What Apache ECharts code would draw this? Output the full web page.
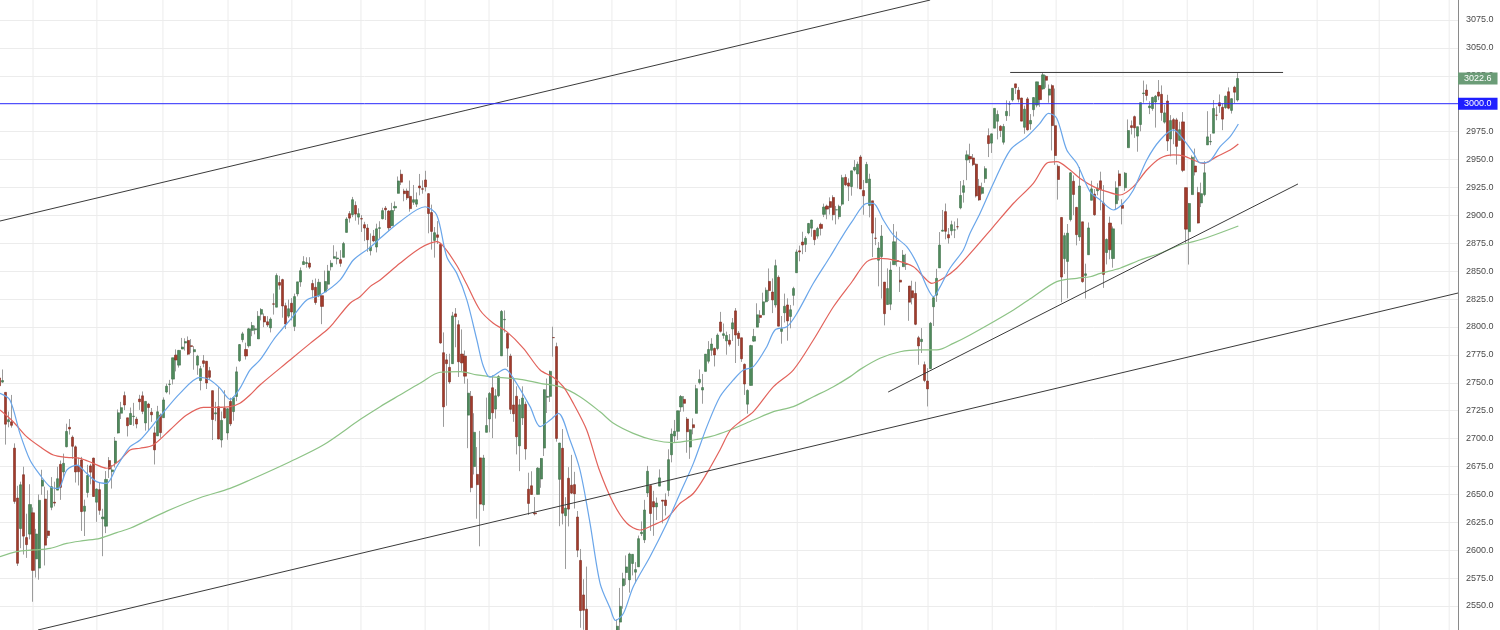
<!DOCTYPE html>
<html><head><meta charset="utf-8">
<script src="https://cdn.jsdelivr.net/npm/echarts@6/dist/echarts.min.js"></script>
<style>html,body{margin:0;padding:0;background:#fff;}#c{width:1500px;height:630px;}</style>
</head><body><div id="c"></div>
<script>
// Daily candles [open, high, low, close], one array per month (Mar 15 2018 .. Oct 25 2019)
const m1803 = [[2754.3,2763.0,2741.5,2747.3],[2750.6,2761.9,2750.0,2752.0],[2741.4,2741.4,2694.6,2712.9],[2715.1,2724.2,2710.1,2716.9],[2715.0,2739.1,2709.8,2711.9],[2691.4,2695.7,2641.6,2643.7],[2646.7,2657.7,2585.9,2588.3],[2619.4,2661.4,2601.8,2658.6],[2667.6,2674.8,2596.1,2612.6],[2611.3,2632.7,2593.1,2605.0],[2614.4,2659.1,2609.7,2640.9]];
const m1804 = [[2633.5,2638.3,2553.8,2581.9],[2592.2,2619.1,2575.5,2614.5],[2584.0,2649.9,2573.6,2644.7],[2657.4,2672.1,2649.6,2662.8],[2645.8,2656.9,2586.3,2604.5],[2617.2,2653.6,2610.8,2613.2],[2638.4,2665.5,2635.8,2656.9],[2643.0,2661.4,2639.3,2642.2],[2653.8,2674.7,2653.8,2664.0],[2676.9,2680.3,2645.1,2656.3],[2670.1,2686.5,2665.2,2677.8],[2692.7,2713.3,2692.1,2706.4],[2710.1,2717.5,2703.6,2708.6],[2701.2,2702.8,2681.9,2693.1],[2692.6,2693.9,2660.6,2670.1],[2675.4,2682.9,2658.0,2670.3],[2680.8,2683.6,2617.3,2634.6],[2634.9,2645.3,2612.7,2639.4],[2651.7,2676.5,2647.2,2666.9],[2675.5,2677.4,2659.0,2669.9],[2682.5,2682.9,2648.0,2648.1]];
const m1805 = [[2643.0,2655.3,2625.4,2654.8],[2654.2,2660.9,2631.7,2635.7],[2628.1,2637.1,2594.6,2629.7],[2621.5,2670.9,2615.3,2663.4],[2680.3,2683.4,2664.7,2672.6],[2670.3,2676.3,2655.2,2671.9],[2678.1,2701.3,2674.1,2697.8],[2705.0,2726.1,2704.5,2723.1],[2722.7,2732.9,2717.5,2727.7],[2738.5,2742.1,2725.5,2730.1],[2718.6,2718.6,2701.9,2711.5],[2712.6,2727.8,2712.2,2722.5],[2719.7,2732.0,2711.4,2720.1],[2717.4,2719.5,2709.2,2713.0],[2735.4,2739.2,2725.7,2733.0],[2738.3,2742.2,2721.9,2724.4],[2714.0,2733.3,2707.1,2733.3],[2730.9,2732.0,2707.4,2727.8],[2723.6,2727.4,2715.0,2721.3],[2705.1,2710.7,2676.8,2689.9],[2702.4,2729.3,2702.4,2724.0],[2721.0,2722.5,2700.7,2705.3]];
const m1806 = [[2718.7,2736.9,2718.7,2734.6],[2741.7,2749.2,2740.5,2746.9],[2748.5,2752.6,2739.5,2748.8],[2753.3,2772.4,2748.5,2772.4],[2774.8,2779.9,2760.2,2770.4],[2765.8,2779.4,2763.6,2779.0],[2780.2,2790.2,2780.2,2782.0],[2785.6,2789.8,2778.8,2786.9],[2787.9,2791.5,2774.7,2775.6],[2783.2,2789.1,2776.5,2782.5],[2777.8,2782.8,2761.7,2779.7],[2765.8,2775.0,2757.1,2773.8],[2752.0,2765.1,2743.2,2762.6],[2769.7,2774.9,2763.9,2767.3],[2769.3,2769.3,2744.4,2749.8],[2760.8,2764.2,2752.7,2754.9],[2742.9,2742.9,2698.7,2717.1],[2722.1,2732.9,2715.6,2723.1],[2728.5,2746.1,2699.4,2699.6],[2698.7,2724.3,2692.0,2716.3],[2727.1,2743.3,2718.0,2718.4]];
const m1807 = [[2705.0,2727.3,2699.0,2726.7],[2733.3,2736.6,2711.2,2713.2],[2724.2,2737.8,2716.0,2736.6],[2737.7,2764.4,2733.5,2759.8],[2769.8,2784.7,2768.7,2784.2],[2788.6,2795.6,2786.2,2793.8],[2779.8,2785.9,2770.8,2774.0],[2783.1,2799.2,2781.5,2798.3],[2796.9,2804.5,2791.7,2801.3],[2797.4,2801.2,2793.4,2798.4],[2789.3,2814.2,2789.2,2809.6],[2811.4,2816.8,2805.9,2815.6],[2809.4,2812.1,2799.8,2804.5],[2804.6,2809.7,2800.0,2801.8],[2799.2,2808.6,2795.1,2807.0],[2820.7,2830.0,2811.1,2820.4],[2817.7,2848.0,2817.7,2846.1],[2839.8,2845.8,2833.4,2837.4],[2842.4,2843.2,2808.3,2818.8],[2819.0,2821.7,2798.1,2802.6],[2809.7,2824.5,2808.1,2816.3]];
const m1808 = [[2821.2,2825.8,2805.9,2813.4],[2800.5,2829.9,2796.3,2827.2],[2829.6,2840.4,2827.4,2840.4],[2840.3,2853.3,2836.0,2850.4],[2855.9,2863.4,2855.9,2858.5],[2856.8,2862.4,2853.1,2857.7],[2857.2,2862.5,2852.0,2853.6],[2838.9,2842.2,2825.8,2833.3],[2835.5,2843.4,2819.9,2821.9],[2827.9,2843.1,2826.6,2840.0],[2828.0,2828.0,2802.5,2818.4],[2831.4,2850.5,2831.4,2840.7],[2838.3,2855.6,2833.7,2850.1],[2853.9,2859.8,2850.6,2857.1],[2861.5,2873.2,2861.3,2863.0],[2861.0,2867.5,2856.1,2861.8],[2860.3,2868.8,2854.0,2857.0],[2862.4,2876.2,2862.4,2874.7],[2884.7,2898.3,2884.7,2896.7],[2901.5,2903.8,2893.5,2897.5],[2900.6,2916.5,2898.4,2914.0],[2908.9,2912.5,2895.2,2901.1],[2898.4,2906.3,2891.7,2901.5]];
const m1809 = [[2897.0,2900.2,2885.1,2896.7],[2891.6,2894.2,2876.9,2888.6],[2888.6,2892.1,2867.3,2878.1],[2868.3,2883.8,2864.1,2871.7],[2881.4,2886.9,2875.9,2877.1],[2871.6,2892.5,2866.8,2887.9],[2888.3,2894.7,2879.2,2888.9],[2896.9,2906.8,2896.4,2904.2],[2906.4,2908.3,2895.8,2905.0],[2903.8,2904.7,2886.2,2888.8],[2890.7,2911.2,2890.4,2904.3],[2906.6,2912.4,2903.8,2908.0],[2919.7,2934.8,2919.7,2930.8],[2936.8,2940.9,2927.1,2929.7],[2921.8,2923.8,2912.6,2919.4],[2921.8,2924.0,2913.7,2915.6],[2917.0,2931.2,2903.3,2906.0],[2911.7,2927.2,2909.3,2914.0],[2910.0,2920.5,2907.5,2914.0]];
const m1810 = [[2926.3,2937.1,2917.9,2924.6],[2923.8,2931.4,2919.4,2923.4],[2931.7,2939.9,2921.4,2925.5],[2919.4,2919.8,2883.9,2901.6],[2902.5,2909.6,2869.3,2885.6],[2877.5,2889.5,2862.1,2884.4],[2882.5,2894.8,2874.3,2880.3],[2873.9,2874.0,2784.9,2785.7],[2776.9,2795.1,2710.5,2728.4],[2770.5,2775.8,2729.4,2767.1],[2763.8,2776.0,2749.0,2750.8],[2767.1,2813.5,2766.9,2809.9],[2811.7,2816.9,2781.8,2809.2],[2802.0,2806.0,2755.2,2768.8],[2775.7,2797.8,2760.3,2767.8],[2773.9,2778.9,2749.2,2755.9],[2721.0,2753.6,2691.4,2740.7],[2737.9,2742.6,2651.9,2656.1],[2674.9,2722.7,2667.8,2705.6],[2667.9,2692.4,2628.2,2658.7],[2682.7,2706.9,2603.5,2641.3],[2640.7,2685.4,2635.3,2682.6],[2705.6,2736.7,2705.6,2711.7]];
const m1811 = [[2717.6,2741.7,2705.6,2740.4],[2745.5,2756.6,2700.4,2723.1],[2726.4,2744.3,2717.9,2738.3],[2738.4,2756.8,2737.1,2755.5],[2774.1,2815.2,2774.1,2813.9],[2806.4,2814.8,2795.0,2806.8],[2794.1,2794.1,2764.2,2781.0],[2773.9,2776.0,2722.0,2726.2],[2730.1,2754.6,2715.0,2722.2],[2737.9,2746.8,2685.8,2701.6],[2693.5,2735.4,2670.8,2730.2],[2718.5,2746.8,2712.2,2736.3],[2730.7,2733.2,2681.1,2690.7],[2654.6,2669.4,2631.5,2641.9],[2657.7,2670.7,2649.8,2649.9],[2633.4,2647.6,2631.1,2632.6],[2650.0,2674.4,2650.0,2673.5],[2663.8,2682.5,2655.9,2682.2],[2691.5,2744.0,2684.4,2743.8],[2737.0,2753.8,2722.9,2737.8],[2737.8,2760.9,2732.8,2760.2]];
const m1812 = [[2790.5,2800.2,2773.4,2790.4],[2782.4,2785.9,2697.2,2700.1],[2663.5,2696.2,2621.5,2696.0],[2691.3,2708.5,2623.1,2633.1],[2630.9,2647.5,2583.2,2637.7],[2664.4,2674.4,2621.3,2636.8],[2658.2,2685.4,2650.3,2651.1],[2658.7,2670.2,2637.3,2650.5],[2629.7,2635.1,2593.8,2600.0],[2590.8,2601.1,2530.5,2545.9],[2559.9,2574.0,2528.7,2546.2],[2547.1,2585.3,2489.0,2507.0],[2496.8,2509.6,2441.2,2467.4],[2465.4,2504.4,2408.6,2416.6],[2400.6,2410.3,2351.1,2351.1],[2363.1,2467.8,2346.6,2467.7],[2442.5,2489.1,2397.9,2488.8],[2498.8,2520.3,2472.9,2485.7],[2498.9,2509.2,2482.8,2506.9]];
const m1901 = [[2477.0,2519.5,2467.5,2510.0],[2491.9,2493.1,2444.0,2447.9],[2474.3,2538.1,2474.3,2531.9],[2535.6,2566.2,2524.6,2549.7],[2568.1,2579.8,2547.6,2574.4],[2580.0,2595.3,2568.9,2585.0],[2573.5,2597.8,2562.0,2596.6],[2588.1,2596.3,2577.4,2596.3],[2580.3,2589.3,2570.4,2582.6],[2585.1,2613.1,2585.1,2610.3],[2614.8,2625.8,2612.7,2616.1],[2609.3,2645.1,2606.4,2636.0],[2651.3,2675.5,2647.6,2670.7],[2657.9,2657.9,2617.3,2632.9],[2643.5,2653.2,2612.9,2638.7],[2638.8,2647.2,2627.0,2642.3],[2657.4,2672.4,2657.3,2664.8],[2644.9,2644.9,2624.1,2643.9],[2644.9,2650.9,2631.1,2640.0],[2653.6,2690.4,2648.3,2681.1],[2685.5,2709.0,2678.7,2704.1]];
const m1902 = [[2702.3,2716.7,2696.9,2706.5],[2706.5,2725.0,2698.8,2724.9],[2728.3,2739.0,2724.0,2737.7],[2735.1,2738.1,2724.2,2731.6],[2717.5,2719.3,2687.3,2706.1],[2692.4,2708.1,2681.8,2707.9],[2712.4,2718.1,2703.8,2709.8],[2722.6,2748.2,2722.6,2744.7],[2750.3,2761.9,2748.6,2753.0],[2743.5,2757.9,2731.2,2745.7],[2760.2,2775.7,2760.2,2775.6],[2769.3,2787.3,2767.3,2779.8],[2779.1,2789.9,2774.1,2784.7],[2780.7,2781.6,2764.6,2774.9],[2780.7,2794.2,2779.1,2792.7],[2804.4,2813.5,2795.0,2796.1],[2792.4,2803.1,2789.5,2793.9],[2787.5,2795.8,2775.1,2792.4],[2788.1,2793.7,2782.5,2784.5]];
const m1903 = [[2798.2,2808.0,2787.4,2803.7],[2814.4,2816.9,2767.7,2792.8],[2794.4,2796.4,2783.0,2789.7],[2790.3,2790.3,2768.7,2771.5],[2766.5,2767.3,2739.1,2748.9],[2730.8,2744.1,2722.3,2743.1],[2747.6,2784.0,2747.6,2783.3],[2787.3,2798.3,2786.7,2791.5],[2799.8,2821.2,2799.8,2810.9],[2810.4,2815.0,2803.5,2808.5],[2810.8,2830.7,2810.8,2822.5],[2822.6,2835.4,2822.0,2832.9],[2840.8,2852.4,2823.3,2832.6],[2831.3,2843.5,2812.4,2824.2],[2819.7,2860.3,2817.4,2854.9],[2844.5,2846.2,2800.5,2800.7],[2796.0,2809.8,2785.0,2798.4],[2812.7,2829.9,2804.0,2818.5],[2819.7,2825.6,2787.7,2805.4],[2809.4,2819.7,2798.8,2815.4],[2828.3,2836.0,2819.2,2834.4]];
const m1904 = [[2848.6,2869.4,2848.6,2867.2],[2868.2,2872.9,2858.8,2867.2],[2876.1,2885.3,2865.2,2873.4],[2874.0,2881.3,2867.1,2879.4],[2884.2,2893.2,2883.0,2892.7],[2888.5,2896.0,2880.8,2895.8],[2886.6,2886.9,2873.3,2878.2],[2881.4,2889.7,2879.1,2888.2],[2891.9,2893.4,2882.0,2888.3],[2900.9,2910.5,2898.4,2907.4],[2908.3,2909.6,2896.5,2905.6],[2912.3,2916.1,2900.7,2907.1],[2916.0,2918.0,2895.5,2900.5],[2904.8,2908.4,2891.9,2905.0],[2898.8,2909.5,2896.4,2908.0],[2910.0,2936.3,2908.5,2933.7],[2934.0,2936.8,2926.1,2927.3],[2929.0,2933.1,2912.8,2926.2],[2925.8,2939.9,2917.6,2939.9],[2940.6,2949.5,2939.4,2943.0],[2937.1,2948.2,2924.1,2945.8]];
const m1905 = [[2952.3,2954.1,2923.4,2923.7],[2922.2,2931.7,2900.5,2917.5],[2929.2,2947.9,2929.2,2945.6],[2908.9,2937.3,2898.2,2932.5],[2913.0,2913.0,2862.6,2884.1],[2879.6,2898.0,2873.3,2879.4],[2859.8,2876.0,2836.4,2870.7],[2863.1,2891.3,2825.4,2881.4],[2840.2,2840.2,2801.4,2811.9],[2820.1,2852.5,2820.1,2834.4],[2820.4,2858.7,2815.1,2851.0],[2855.8,2892.2,2855.8,2876.3],[2858.6,2885.5,2854.2,2859.5],[2841.9,2853.9,2831.3,2840.2],[2854.0,2868.9,2854.0,2864.4],[2856.1,2865.5,2851.1,2856.3],[2836.7,2836.7,2805.5,2822.2],[2832.4,2841.4,2820.2,2826.1],[2830.0,2840.5,2801.6,2802.4],[2790.3,2792.0,2766.1,2783.0],[2786.9,2799.0,2776.7,2788.9],[2766.2,2769.0,2750.5,2752.1]];
const m1906 = [[2751.5,2763.1,2728.8,2744.5],[2762.6,2804.5,2762.6,2803.3],[2818.1,2827.3,2800.9,2826.2],[2828.5,2852.1,2822.5,2843.5],[2852.9,2885.0,2852.9,2873.3],[2885.8,2904.8,2885.5,2886.7],[2903.3,2910.6,2878.5,2885.7],[2882.7,2888.6,2874.7,2879.8],[2886.2,2895.2,2882.0,2891.6],[2886.8,2894.5,2879.6,2887.0],[2889.8,2897.3,2887.3,2889.7],[2906.7,2930.8,2905.4,2917.8],[2920.6,2931.7,2911.4,2926.5],[2949.6,2958.1,2931.5,2954.2],[2952.7,2964.2,2946.9,2950.5],[2951.4,2954.9,2944.1,2945.4],[2945.8,2946.5,2916.0,2917.4],[2926.1,2932.6,2913.0,2913.8],[2919.7,2929.3,2918.6,2924.9],[2932.9,2944.0,2929.1,2941.8]];
const m1907 = [[2971.4,2977.9,2952.2,2964.3],[2964.7,2973.2,2955.9,2973.0],[2978.1,2995.8,2978.0,2995.8],[2984.3,2994.0,2968.0,2990.4],[2979.8,2980.8,2970.1,2976.0],[2965.5,2981.9,2963.4,2979.6],[2989.3,3003.0,2984.6,2993.1],[2999.6,3002.3,2988.8,2999.9],[3003.4,3013.9,3001.9,3013.8],[3017.8,3017.8,3008.8,3014.3],[3012.1,3015.0,3001.2,3004.0],[3005.1,3005.3,2984.3,2984.4],[2978.9,2998.3,2973.1,2995.1],[3004.3,3006.0,2975.9,2976.6],[2981.9,2990.7,2976.7,2985.0],[2994.7,3005.9,2988.6,3005.5],[2998.8,3019.6,2996.8,3019.6],[3016.3,3016.3,2997.2,3003.7],[3013.3,3028.0,3012.6,3025.9],[3024.5,3025.6,3014.3,3021.0],[3007.7,3017.2,3000.9,3013.2],[3016.2,3017.4,2958.1,2980.4]];
const m1908 = [[2980.3,3013.6,2945.2,2953.6],[2943.9,2945.5,2914.1,2932.1],[2898.1,2898.1,2822.1,2844.7],[2861.2,2884.4,2847.4,2881.8],[2858.7,2892.2,2825.7,2884.0],[2896.2,2938.7,2894.5,2938.1],[2930.5,2935.8,2900.2,2918.7],[2907.1,2907.6,2873.1,2882.7],[2880.7,2943.3,2877.1,2926.3],[2894.2,2894.2,2839.6,2840.6],[2846.2,2856.7,2825.5,2847.6],[2864.7,2893.6,2864.7,2888.7],[2913.5,2931.0,2913.5,2923.7],[2919.0,2923.6,2899.6,2900.5],[2922.0,2928.7,2917.9,2924.4],[2930.9,2939.1,2904.5,2923.0],[2911.1,2927.0,2835.0,2847.1],[2866.7,2879.3,2856.0,2878.4],[2893.1,2898.8,2860.6,2869.2],[2861.3,2890.0,2853.1,2887.9],[2910.4,2930.5,2905.7,2924.6],[2937.1,2940.4,2913.3,2926.5]];
const m1909 = [[2909.0,2914.4,2891.9,2906.3],[2924.7,2938.8,2921.9,2937.8],[2960.6,2985.9,2960.6,2976.0],[2980.3,2985.0,2972.5,2978.7],[2988.4,2989.4,2969.4,2978.4],[2971.0,2979.4,2957.0,2979.4],[2981.4,3000.9,2975.3,3000.9],[3009.1,3020.7,3000.9,3009.6],[3012.2,3017.3,3002.9,3007.4],[2996.4,3002.2,2990.7,2998.0],[2995.7,3006.2,2993.7,3005.7],[3001.5,3007.8,2978.6,3006.7],[3010.4,3021.2,3003.2,3006.8],[3008.4,3016.4,2984.7,2992.1],[2983.5,2999.2,2982.2,2991.8],[3002.4,3008.0,2957.7,2966.6],[2968.4,2989.8,2952.9,2984.9],[2985.7,2987.3,2963.7,2977.6],[2985.5,2987.3,2945.5,2961.8],[2967.1,2983.9,2967.1,2976.7]];
const m1910 = [[2983.7,2992.5,2938.7,2940.3],[2924.8,2924.8,2874.9,2887.6],[2885.4,2911.1,2855.9,2910.6],[2918.6,2953.7,2918.6,2952.0],[2944.2,2959.8,2935.7,2938.8],[2920.4,2925.5,2892.7,2893.1],[2911.1,2929.3,2907.4,2919.4],[2918.6,2948.5,2917.1,2938.1],[2963.1,2993.3,2963.1,2970.3],[2965.8,2972.8,2962.9,2966.2],[2973.6,3003.3,2973.6,2995.7],[2989.7,2997.5,2985.2,2989.7],[3000.8,3008.3,2991.8,2998.0],[2996.8,3000.0,2976.3,2986.2],[2996.5,3007.3,2995.4,3006.7],[3010.7,3014.6,2995.0,2996.0],[2994.0,3004.8,2991.2,3004.5],[3014.8,3016.1,3000.4,3010.3],[3003.3,3027.4,3001.9,3022.6]];

// Moving averages: [candle index, value]
const maBlue = [[0.15,2740.6],[3.4,2734.6],[6.7,2704.7],[10.0,2680.8],[13.3,2667.4],[16.6,2656.9],[19.3,2655.4],[22.1,2671.8],[25.4,2676.3],[28.6,2668.9],[31.9,2661.4],[35.2,2659.9],[38.5,2674.8],[42.9,2692.7],[46.2,2698.7],[52.7,2719.6],[59.3,2740.5],[65.9,2754.8],[69.2,2752.5],[72.5,2745.0],[75.8,2735.1],[79.0,2745.0],[82.3,2761.4],[85.6,2770.4],[90.0,2788.3],[92.2,2795.8],[96.0,2808],[101.0,2824.2],[105.4,2828.6],[111.9,2842.0],[116.3,2860.0],[121.8,2871.3],[125.1,2879.4],[131.6,2894.3],[139.9,2907.7],[143.7,2900.3],[147.0,2862.9],[150.3,2848.0],[153.6,2824.2],[156.9,2788.3],[159.0,2765.0],[161.2,2755.0],[166.2,2762.3],[168.9,2754.0],[174.4,2728.6],[177.7,2710.7],[181.0,2716.6],[183.7,2722.6],[187.5,2698.7],[190.8,2671.8],[194.1,2624.1],[197.4,2570.3],[200.7,2547.9],[202.5,2537.0],[205.1,2543.5],[208.3,2567.3],[213.8,2594.2],[219.3,2624.0],[223.7,2651.0],[228.1,2678.0],[232.5,2710.7],[236.8,2737.5],[241.2,2752.5],[244.5,2761.4],[247.8,2764.4],[252.2,2782.3],[254.9,2797.3],[258.8,2800.2],[262.1,2812.2],[267.5,2839.1],[273.0,2862.9],[276.3,2877.9],[280.2,2894.3],[285.1,2910.8],[287.2,2910.8],[290.5,2895.8],[293.8,2882.4],[298.2,2871.9],[301.5,2857.0],[304.8,2836.1],[307.0,2827.1],[309.2,2836.1],[312.4,2852.6],[316.8,2869.0],[319.0,2883.9],[322.3,2901.8],[326.7,2928.7],[332.2,2958.5],[337.7,2970.5],[342.0,2982.5],[344.8,2991.4],[347.5,2987.0],[350.8,2958.5],[354.1,2946.6],[358.5,2921.0],[361.8,2913.7],[366.1,2904.8],[369.4,2910.8],[372.7,2922.7],[377.1,2949.6],[381.5,2967.5],[385.9,2976.5],[389.1,2968.0],[392.4,2956.0],[394.6,2947.0],[397.5,2948.0],[401.2,2961.5],[404.5,2970.5],[407.2,2981.8]];
const maRed = [[0.15,2725.6],[4.5,2715.1],[8.9,2701.7],[13.3,2692.7],[17.7,2685.3],[22.1,2683.2],[26.5,2682.3],[30.8,2677.8],[35.2,2673.4],[39.6,2680.8],[42.9,2689.8],[46.2,2691.3],[50.5,2694.3],[56.0,2707.7],[61.5,2721.1],[67.0,2728.0],[71.4,2728.0],[75.8,2728.6],[79.0,2731.6],[82.3,2739.0],[85.6,2748.0],[95.5,2770.4],[102.1,2785.3],[107.6,2797.3],[109.7,2803.3],[115.2,2821.2],[118.5,2827.1],[121.8,2836.1],[125.1,2842.1],[131.6,2857.0],[138.2,2870.5],[143.7,2876.4],[146.0,2872.0],[150.3,2855.0],[153.6,2838.0],[157.9,2815.2],[162.3,2803.3],[166.7,2795.8],[172.2,2780.9],[177.7,2761.4],[182.0,2754.9],[185.3,2746.5],[188.6,2731.6],[193.0,2707.7],[197.0,2673.0],[201.8,2642.0],[206.2,2624.1],[210.5,2618.1],[214.9,2622.6],[219.3,2628.6],[223.7,2642.0],[228.1,2651.0],[232.5,2669.0],[236.8,2689.8],[240.1,2707.0],[243.4,2715.1],[247.8,2724.1],[254.4,2746.5],[260.9,2761.4],[267.5,2788.3],[274.1,2818.1],[280.2,2840.5],[285.1,2858.5],[289.4,2861.5],[294.9,2859.4],[300.4,2854.0],[303.7,2845.0],[306.4,2839.1],[310.2,2843.6],[314.6,2852.6],[320.1,2869.0],[326.7,2889.9],[333.3,2910.8],[339.8,2928.7],[344.2,2946.6],[347.5,2948.1],[351.9,2940.6],[355.2,2933.0],[359.6,2925.7],[364.0,2921.2],[368.3,2918.2],[372.7,2925.7],[377.1,2940.6],[381.5,2951.1],[385.9,2954.1],[389.1,2953.3],[392.4,2949.6],[395.7,2946.6],[400.1,2952.6],[404.5,2958.5],[407.2,2963.9]];
const maGreen = [[0.15,2594.2],[5.6,2598.7],[11.1,2600.2],[16.6,2601.7],[22.1,2606.1],[27.5,2608.5],[33.0,2610.6],[38.5,2615.7],[42.9,2619.6],[55.0,2635.0],[65.9,2647.0],[75.8,2655.4],[82.3,2662.9],[95.5,2679.3],[106.4,2694.2],[118.5,2717.0],[125.1,2728.6],[131.6,2739.0],[138.2,2749.5],[144.8,2759.4],[151.4,2760.0],[156.9,2757.0],[161.2,2755.5],[171.1,2753.1],[177.7,2749.5],[184.2,2746.5],[190.8,2737.5],[197.4,2724.0],[201.8,2713.7],[208.3,2704.7],[214.9,2698.7],[221.5,2696.4],[228.1,2698.7],[233.6,2701.7],[240.1,2707.7],[247.8,2716.6],[254.4,2724.1],[260.9,2728.6],[267.5,2737.5],[274.1,2746.5],[279.6,2755.5],[282.9,2762.0],[289.4,2771.9],[296.0,2777.8],[302.6,2779.4],[308.1,2779.4],[313.5,2785.3],[319.0,2792.8],[333.3,2815.2],[339.8,2827.1],[347.5,2840.6],[354.1,2843.6],[358.5,2845.0],[361.8,2848.0],[368.3,2852.6],[374.9,2860.0],[381.5,2866.0],[388.0,2873.4],[392.4,2876.4],[397.9,2881.0],[407.2,2890.4]];

// Drawn trend lines: [[index, value], [index, value]]
const channelTop = [[0.15,2894.9],[305.9,3092.9]];
const channelBottom = [[12.64,2528.5],[479.4,2830.4]];
const supportLine = [[292.1,2741.7],[426.8,2928.1]];
const resistanceLine = [[332.2,3028.0],[421.9,3028.0]];
const levelLine = 3000;

// Vertical grid ticks (candle index positions) and price axis settings
const gridTicks = [11,32,53.7,75.1,96.1,118.8,139.9,160.9,181.9,201.3,222.4,243.4,262.2,283.5,305.2,326.3,347.3,369.3,390.4,412.1,433.1,453.5,476.5];
const yMin = 2525, yMax = 3100, yStep = 25;
const xMin = 0.15, xMax = 479.4;

const rows = [].concat(m1803,m1804,m1805,m1806,m1807,m1808,m1809,m1810,m1811,m1812,m1901,m1902,m1903,m1904,m1905,m1906,m1907,m1908,m1909,m1910);
const wickData = rows.map((r,i)=>[i, r[0], r[3], r[2], r[1]]);
const bodyData = rows.map((r,i)=>[i, r[0], r[3], Math.min(r[0],r[3]), Math.max(r[0],r[3])]);
const lastClose = rows[rows.length-1][3];

const gridData = [];
gridTicks.forEach(t=>{ gridData.push([t, yMin-100]); gridData.push([t, yMax+100]); gridData.push([t, '-']); });

const UP = '#4f8a5c', DOWN = '#a23b2c';
const FONT = 'Liberation Sans, Arial, sans-serif';
const lineSeries = (name, data, color, width) => ({
  name, type:'line', data, showSymbol:false, symbol:'none', smooth:0.3, silent:true,
  lineStyle:{color, width}, itemStyle:{color}, z:5, animation:false
});
const trend = (name, data, color) => ({
  name, type:'line', data, showSymbol:false, symbol:'none', silent:true,
  lineStyle:{color, width:1}, itemStyle:{color}, z:6, animation:false
});
const tagLabel = (text, bg) => ({show:true, position:'end', distance:0, formatter:()=>text, color:'#fff',
  backgroundColor:bg, padding:[2,6,1,6], fontSize:9, fontFamily:FONT});

const chart = echarts.init(document.getElementById('c'), null, {renderer:'canvas'});
chart.setOption({
  animation:false,
  backgroundColor:'#ffffff',
  grid:{left:0, right:42, top:-7.905, bottom:-3.905, containLabel:false, outerBoundsMode:'none'},
  xAxis:{type:'value', min:xMin, max:xMax, show:false},
  yAxis:{type:'value', position:'right', min:yMin, max:yMax, interval:yStep,
    axisLine:{show:true, lineStyle:{color:'#8a8a8a', width:1}},
    axisTick:{show:false},
    axisLabel:{show:true, margin:8, color:'#4a4a4a', fontSize:9, fontFamily:FONT,
      showMinLabel:false, showMaxLabel:false, formatter:v=>v.toFixed(1)},
    splitLine:{show:true, lineStyle:{color:'#ececec', width:1}}
  },
  series:[
    {name:'vgrid', type:'line', data:gridData, showSymbol:false, symbol:'none', silent:true, connectNulls:false,
      lineStyle:{color:'#ececec', width:1}, z:1, animation:false},
    {name:'wicks', type:'candlestick', data:wickData, encode:{x:0, y:[1,2,3,4]}, barWidth:0.01, silent:true, z:3,
      itemStyle:{color:'#9c9c9c', color0:'#9c9c9c', borderColor:'#9c9c9c', borderColor0:'#9c9c9c', borderWidth:1}},
    {name:'bodies', type:'candlestick', data:bodyData, encode:{x:0, y:[1,2,3,4]}, barWidth:2.6, silent:true, z:4,
      itemStyle:{color:UP, color0:DOWN, borderColor:'#3f7049', borderColor0:'#7e2c20', borderWidth:0.6},
      markLine:{silent:true, symbol:['none','none'], animation:false,
        lineStyle:{color:'rgba(0,0,0,0)', width:0},
        data:[
          {yAxis:lastClose, label:tagLabel(lastClose.toFixed(1), '#6b9c77')},
          {yAxis:levelLine, label:tagLabel(levelLine.toFixed(1), '#1f1fff')}
        ]}
    },
    lineSeries('MA green', maGreen, '#8dc386', 1.2),
    lineSeries('MA red', maRed, '#e2625b', 1.2),
    lineSeries('MA blue', maBlue, '#6aa6ea', 1.2),
    trend('channel top', channelTop, '#3a3a3a'),
    trend('channel bottom', channelBottom, '#3a3a3a'),
    trend('support', supportLine, '#3a3a3a'),
    trend('resistance', resistanceLine, '#3a3a3a'),
    trend('level 3000', [[xMin, levelLine],[xMax, levelLine]], '#2b2bff')
  ]
});
</script>
</body></html>
